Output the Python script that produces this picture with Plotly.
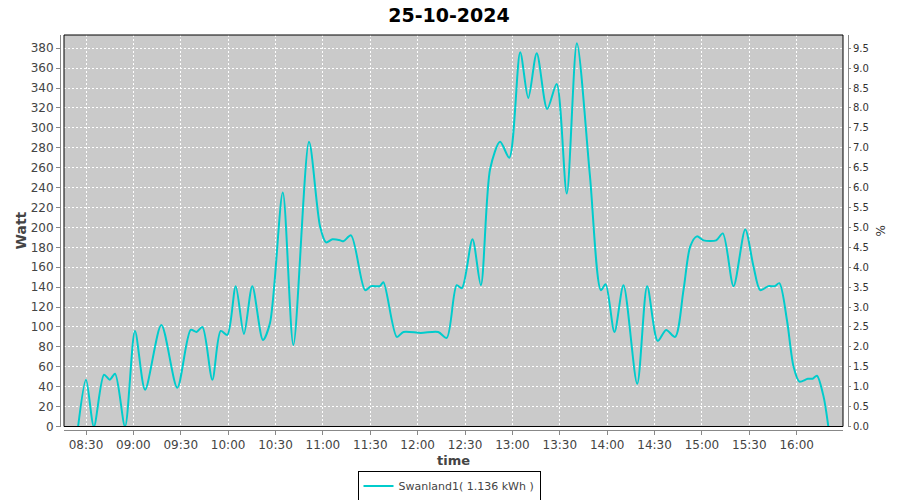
import plotly.graph_objects as go

DAY = "2024-10-25 "
times = ["08:25:00", "08:30:00", "08:35:00", "08:41:24", "08:45:00", "08:48:24", "08:54:42",
         "09:01:00", "09:07:24", "09:17:42", "09:27:48", "09:36:18", "09:40:00", "09:43:42",
         "09:50:00", "09:55:18", "09:59:30", "10:04:48", "10:10:00", "10:15:18", "10:22:00",
         "10:26:30", "10:34:36", "10:41:18", "10:51:12", "10:58:12", "11:02:00", "11:06:00",
         "11:11:00", "11:13:00", "11:17:48", "11:26:42", "11:30:30", "11:36:00", "11:38:18",
         "11:46:48", "11:51:00", "12:02:00", "12:13:00", "12:18:24", "12:24:42", "12:28:00",
         "12:34:42", "12:40:00", "12:45:54", "12:52:12", "12:58:00", "13:04:54", "13:10:00",
         "13:15:24", "13:22:00", "13:28:00", "13:34:24", "13:40:48", "13:49:00", "13:56:00",
         "13:59:00", "14:04:36", "14:10:18", "14:19:00", "14:25:18", "14:32:00", "14:37:18",
         "14:43:00", "14:48:18", "14:52:36", "14:56:48", "15:01:00", "15:09:00", "15:13:12",
         "15:20:00", "15:27:24", "15:32:36", "15:36:54", "15:42:00", "15:46:00", "15:49:00",
         "15:53:48", "15:58:00", "16:01:42", "16:07:00", "16:10:00", "16:12:48", "16:17:00",
         "16:20:00"]
watts = [0, 47, 0, 52, 47, 53, 0,
         96, 37, 102, 39, 97, 95, 100,
         47, 96, 92, 141, 93, 141, 87,
         104, 235, 82, 286, 201, 185, 188,
         187, 186, 192, 137, 141, 141, 145,
         90, 95, 94, 95, 89, 142, 139,
         188, 142, 259, 286, 270, 376, 330,
         375, 319, 344, 234, 385, 253, 137,
         143, 95, 142, 43, 141, 86, 97,
         90, 137, 181, 191, 187, 187, 194,
         141, 198, 161, 137, 141, 141, 144,
         107, 60, 45, 48, 48, 51, 30,
         0]

series_name = "Swanland1( 1.136 kWh )"
chart_title = "25-10-2024"
x_range = ["08:16:04", "16:29:18"]
tick_start = "08:30:00"

xs = [DAY + t for t in times]

FONT = "DejaVu Sans"
GRID = "#ffffff"
AXIS = "#888888"

W, H = 900, 500
ML, MR, MT, MB = 60, 52, 35, 70
paper_w = W - ML - MR   # 788
paper_h = H - MT - MB   # 395

fig = go.Figure()
fig.add_trace(go.Scatter(
    x=xs, y=watts, mode="lines", name=series_name,
    line=dict(color="#00cccc", width=2, shape="spline", smoothing=0.8),
    xaxis="x", yaxis="y",
))
# invisible trace for right axis
fig.add_trace(go.Scatter(x=[xs[0]], y=[0], mode="lines", showlegend=False,
                         hoverinfo="skip", line=dict(color="rgba(0,0,0,0)"),
                         xaxis="x", yaxis="y2"))

fig.update_layout(
    width=W, height=H,
    margin=dict(l=ML, r=MR, t=MT, b=MB, autoexpand=False),
    paper_bgcolor="white",
    plot_bgcolor="#cacaca",
    font=dict(family=FONT, size=12, color="#444444"),
    title=dict(text="<b>" + chart_title + "</b>", x=449 / W, xanchor="center",
               y=1 - 15 / H, yanchor="middle", yref="container",
               font=dict(size=19, color="#000000", family=FONT), automargin=False),
    xaxis=dict(
        type="date",
        domain=[4 / paper_w, 1 - 5 / paper_w],
        anchor="free", position=0,
        range=[DAY + x_range[0], DAY + x_range[1]],
        tick0=DAY + tick_start, dtick=30 * 60 * 1000, tickformat="%H:%M",
        showgrid=True, gridcolor=GRID, griddash="2px,2px", gridwidth=1,
        showline=True, linecolor=AXIS, linewidth=1,
        ticks="outside", ticklen=4, tickcolor=AXIS,
        tickfont=dict(size=12, color="#444444"),
        zeroline=False, automargin=False,
    ),
    yaxis=dict(
        domain=[3.5 / paper_h, 1],
        anchor="free", position=0,
        range=[0, 393.3], dtick=20, tick0=0,
        showgrid=True, gridcolor=GRID, griddash="2px,2px", gridwidth=1,
        showline=True, linecolor=AXIS, linewidth=1,
        ticks="outside", ticklen=4, tickcolor=AXIS,
        tickfont=dict(size=12, color="#444444"),
        zeroline=False, automargin=False,
    ),
    yaxis2=dict(
        overlaying="y", side="right", anchor="free", position=1,
        range=[0, 393.3 / 40], dtick=0.5, tick0=0, tickformat=".1f",
        showgrid=False, zeroline=False,
        showline=True, linecolor=AXIS, linewidth=1,
        ticks="outside", ticklen=2, tickcolor=AXIS,
        tickfont=dict(size=10, color="#333333"),
        title=dict(text="%", font=dict(size=12, color="#333333"), standoff=8),
        automargin=False,
    ),
    legend=dict(
        orientation="h", xref="container", x=449 / W, xanchor="center",
        yref="container", y=1 - 486 / H, yanchor="middle",
        bordercolor="#000000", borderwidth=1, bgcolor="white",
        font=dict(size=11, color="#444444"),
        itemwidth=30,
    ),
    showlegend=True,
    hovermode=False,
)

# axis titles placed exactly
fig.add_annotation(text="<b>Watt</b>", xref="paper", yref="paper",
                   x=(20.5 - ML) / paper_w, y=(H - MB - 231) / paper_h,
                   xanchor="center", yanchor="middle", textangle=-90, showarrow=False,
                   font=dict(size=14, color="#444444", family=FONT))
fig.add_annotation(text="<b>time</b>", xref="paper", yref="paper",
                   x=(453 - ML) / paper_w, y=(H - MB - 460) / paper_h,
                   xanchor="center", yanchor="middle", showarrow=False,
                   font=dict(size=13, color="#444444", family=FONT))

fig.add_shape(type="rect", xref="x domain", yref="y domain", x0=0, x1=1, y0=0, y1=1,
              line=dict(color="#000000", width=1), fillcolor="rgba(0,0,0,0)", layer="above")

fig.write_html("out.html",
               config={"displayModeBar": False, "staticPlot": True},
               post_script="document.body.style.margin='0';document.body.style.overflow='hidden';")
